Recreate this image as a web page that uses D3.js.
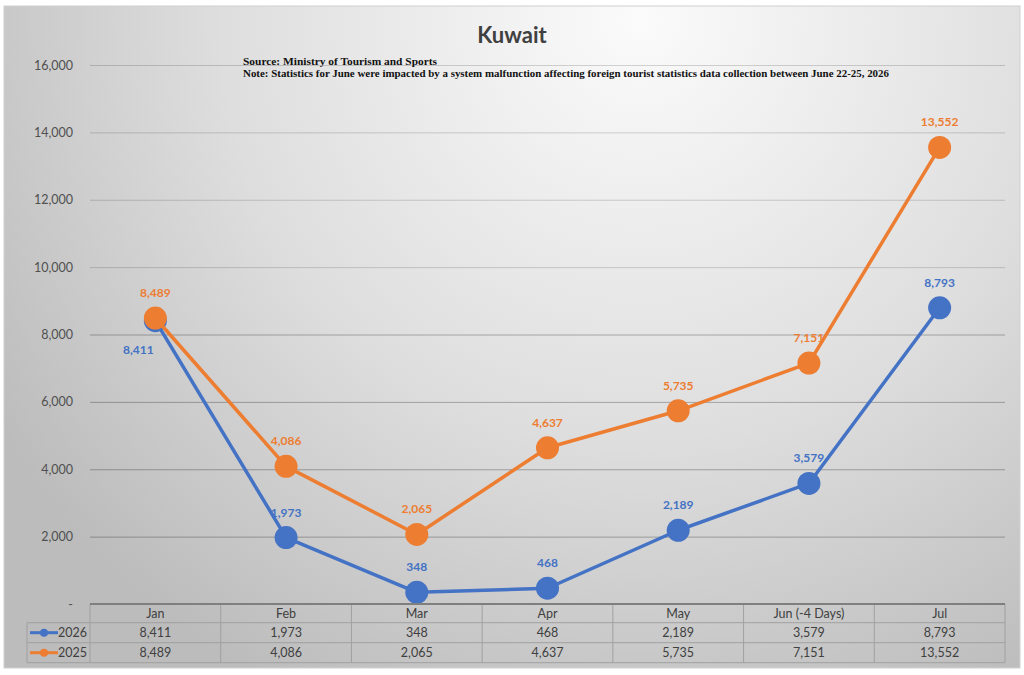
<!DOCTYPE html>
<html><head><meta charset="utf-8">
<script src="https://cdn.jsdelivr.net/npm/d3@7/dist/d3.min.js"></script>
<style>body{margin:0;background:#fff}svg{display:block}</style>
</head><body>
<svg id="c" width="1024" height="675"></svg>
<script>
const categories = ["Jan","Feb","Mar","Apr","May","Jun (-4 Days)","Jul"];
const values2026 = [8411,1973,348,468,2189,3579,8793];
const values2025 = [8489,4086,2065,4637,5735,7151,13552];
const seriesNames = ["2026","2025"];
const seriesColors = ["#4472C4","#ED7D31"];
const yTicks = [0,2000,4000,6000,8000,10000,12000,14000,16000];
const titleText = "Kuwait";
const sourceText = "Source: Ministry of Tourism and Sports";
const noteText = "Note: Statistics for June were impacted by a system malfunction affecting foreign tourist statistics data collection between June 22-25, 2026";

(function(){
const svg = d3.select("#c");
const font = "Lato, 'Open Sans', sans-serif";
const defs = svg.append("defs");
const g1 = defs.append("radialGradient").attr("id","bg").attr("gradientUnits","userSpaceOnUse")
  .attr("cx",640).attr("cy",20).attr("r",760).attr("fx",640).attr("fy",20);
g1.append("stop").attr("offset","0").attr("stop-color","#fbfbfb");
g1.append("stop").attr("offset","0.55").attr("stop-color","#dedede");
g1.append("stop").attr("offset","1").attr("stop-color","#bcbcbc");

svg.append("rect").attr("x",4).attr("y",6).attr("width",1016).attr("height",662)
  .attr("fill","url(#bg)").attr("stroke","#d0d0d0").attr("stroke-width",1);

const pLeft = 90, pRight = 1005, pTop = 65, pBottom = 604;
const x = d3.scaleBand().domain(categories).range([pLeft,pRight]);
const y = d3.scaleLinear().domain([0,16000]).range([pBottom,pTop]);

const yAxis = d3.axisLeft(y).tickValues(yTicks).tickSize(-(pRight-pLeft))
  .tickFormat(d => d===0 ? "-" : d3.format(",")(d));
const ga = svg.append("g").attr("transform",`translate(${pLeft},0)`).call(yAxis);
ga.select(".domain").remove();
ga.selectAll(".tick line").attr("stroke",d=> d>=10000 ? "rgba(0,0,0,0.16)" : "rgba(0,0,0,0.28)").attr("stroke-width",1)
  .filter(d=>d===0).remove();
ga.selectAll(".tick text").attr("x",-17).attr("fill","#505050")
  .style("font-family",font).style("font-size","12.5px");

svg.append("text").attr("x",512).attr("y",43).attr("text-anchor","middle")
  .attr("fill","#404040").style("font-family",font).style("font-size","22px").style("font-weight","bold")
  .text(titleText);
svg.append("text").attr("x",243).attr("y",65).attr("fill","#111")
  .attr("textLength",194).attr("lengthAdjust","spacingAndGlyphs")
  .style("font-family","'Liberation Serif', serif").style("font-size","11px").style("font-weight","bold")
  .text(sourceText);
svg.append("text").attr("x",243).attr("y",76.5).attr("fill","#111")
  .attr("textLength",646).attr("lengthAdjust","spacingAndGlyphs")
  .style("font-family","'Liberation Serif', serif").style("font-size","11px").style("font-weight","bold")
  .text(noteText);

const series = [values2026, values2025];
const cx = (i) => x(categories[i]) + x.bandwidth()/2;

series.forEach((vals, si) => {
  svg.append("g").selectAll("text").data(vals).join("text")
    .attr("x",(d,i)=> (si===0 && i===0) ? cx(i)-17 : cx(i))
    .attr("y",(d,i)=> (si===0 && i===0) ? y(d)+33 : y(d)-21)
    .attr("text-anchor","middle").attr("fill",seriesColors[si])
    .style("font-family",font).style("font-size","12px").style("font-weight","bold")
    .text(d=>d3.format(",")(d));
});

const line = d3.line().x((d,i)=>cx(i)).y(d=>y(d));
series.forEach((vals, si) => {
  const g = svg.append("g");
  g.append("path").datum(vals).attr("d",line).attr("fill","none")
    .attr("stroke",seriesColors[si]).attr("stroke-width",3.5).attr("stroke-linejoin","round");
  g.selectAll("circle").data(vals).join("circle")
    .attr("cx",(d,i)=>cx(i)).attr("cy",d=>y(d)).attr("r",11.5).attr("fill",seriesColors[si]);
});

const rowY = [604, 622.7, 642.7, 662.7];
const tbl = svg.append("g");
const lineCol = "#a0a0a0";
categories.forEach((c,i)=>{
  tbl.append("text").attr("x",cx(i)).attr("y",(rowY[0]+rowY[1])/2+4.5).attr("text-anchor","middle")
    .attr("fill","#404040").style("font-family",font).style("font-size","12.5px").text(c);
});
series.forEach((vals,si)=>{
  const yy = (rowY[si+1]+rowY[si+2])/2+4.5;
  vals.forEach((v,i)=>{
    tbl.append("text").attr("x",cx(i)).attr("y",yy).attr("text-anchor","middle")
      .attr("fill","#404040").style("font-family",font).style("font-size","12.5px").text(d3.format(",")(v));
  });
  const ly = (rowY[si+1]+rowY[si+2])/2;
  tbl.append("line").attr("x1",30).attr("x2",58).attr("y1",ly).attr("y2",ly)
    .attr("stroke",seriesColors[si]).attr("stroke-width",3);
  tbl.append("circle").attr("cx",44).attr("cy",ly).attr("r",4).attr("fill",seriesColors[si]);
  tbl.append("text").attr("x",87).attr("y",ly+4.5).attr("text-anchor","end")
    .attr("fill","#404040").style("font-family",font).style("font-size","12.5px").text(seriesNames[si]);
});
const colX = categories.map(c=>x(c)).concat([pRight]);
colX.forEach(xx=>{
  tbl.append("line").attr("x1",xx).attr("x2",xx).attr("y1",rowY[0]).attr("y2",rowY[3])
    .attr("stroke",lineCol).attr("stroke-width",1);
});
[1,2,3].forEach(k=>{
  tbl.append("line").attr("x1",27).attr("x2",pRight).attr("y1",rowY[k]).attr("y2",rowY[k])
    .attr("stroke",lineCol).attr("stroke-width",1);
});
tbl.append("line").attr("x1",27).attr("x2",27).attr("y1",rowY[1]).attr("y2",rowY[3])
  .attr("stroke",lineCol).attr("stroke-width",1);
tbl.append("line").attr("x1",pLeft).attr("x2",pRight).attr("y1",rowY[0]).attr("y2",rowY[0])
  .attr("stroke","#7f7f7f").attr("stroke-width",2);
})();
</script>
</body></html>
